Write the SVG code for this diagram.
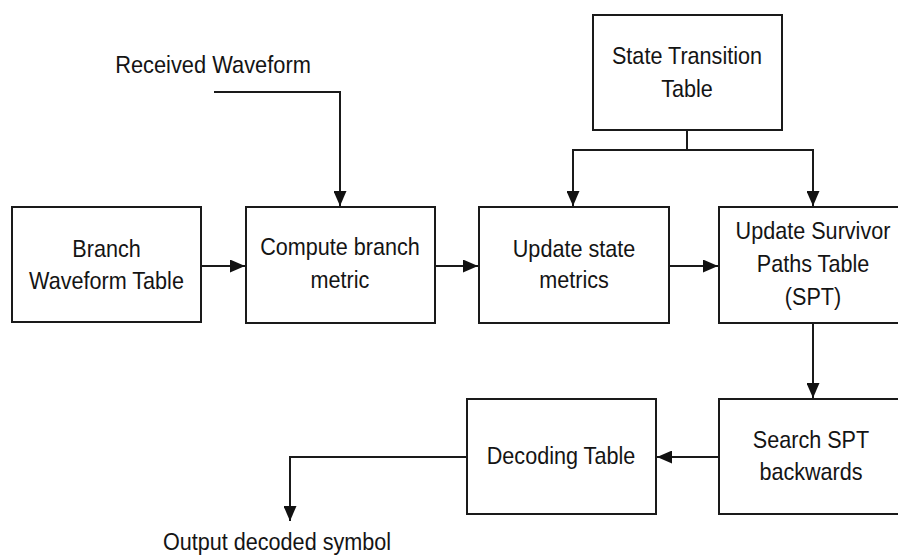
<svg xmlns="http://www.w3.org/2000/svg" width="898" height="556" viewBox="0 0 898 556">
  <style>
    .box { fill: #ffffff; stroke: #1a1a1a; stroke-width: 2; }
    .wire { fill: none; stroke: #1a1a1a; stroke-width: 2; }
    text { font-family: "Liberation Sans", Arial, sans-serif; font-size: 24px; fill: #141414; text-anchor: middle; }
  </style>
  <defs>
    <marker id="arrow" viewBox="0 0 15 13" refX="15" refY="6.5" markerWidth="15" markerHeight="13" markerUnits="userSpaceOnUse" orient="auto">
      <path d="M0,0 L15,6.5 L0,13 Z" fill="#111111"/>
    </marker>
  </defs>
  <rect width="898" height="556" fill="#ffffff"/>

  <g id="connectors">
    <path class="wire" d="M214,92 H340 V206" marker-end="url(#arrow)"/>
    <path class="wire" d="M201,266 H245" marker-end="url(#arrow)"/>
    <path class="wire" d="M435,266 H478" marker-end="url(#arrow)"/>
    <path class="wire" d="M669,266 H718" marker-end="url(#arrow)"/>
    <path class="wire" d="M687,130 V150 H573 V206" marker-end="url(#arrow)"/>
    <path class="wire" d="M687,150 H813 V206" marker-end="url(#arrow)"/>
    <path class="wire" d="M813,323 V398" marker-end="url(#arrow)"/>
    <path class="wire" d="M719,457 H657" marker-end="url(#arrow)"/>
    <path class="wire" d="M467,457 H290 V521" marker-end="url(#arrow)"/>
  </g>

  <g id="received-waveform">
    <text transform="translate(213,73) scale(0.91,1)">Received Waveform</text>
  </g>

  <g id="branch-waveform-table">
    <rect class="box" x="12" y="207" width="189" height="115"/>
    <text transform="translate(106.5,257) scale(0.9,1)">Branch</text>
    <text transform="translate(106.5,289) scale(0.9,1)">Waveform Table</text>
  </g>

  <g id="compute-branch-metric">
    <rect class="box" x="246" y="207" width="189" height="116"/>
    <text transform="translate(340,255) scale(0.9,1)">Compute branch</text>
    <text transform="translate(340,288) scale(0.9,1)">metric</text>
  </g>

  <g id="update-state-metrics">
    <rect class="box" x="479" y="207" width="190" height="116"/>
    <text transform="translate(574,257) scale(0.9,1)">Update state</text>
    <text transform="translate(574,288) scale(0.9,1)">metrics</text>
  </g>

  <g id="state-transition-table">
    <rect class="box" x="593" y="15" width="189" height="115"/>
    <text transform="translate(687,64) scale(0.9,1)">State Transition</text>
    <text transform="translate(687,97) scale(0.9,1)">Table</text>
  </g>

  <g id="update-survivor-paths">
    <rect class="box" x="719" y="207" width="190" height="116"/>
    <text transform="translate(813,239) scale(0.9,1)">Update Survivor</text>
    <text transform="translate(813,272) scale(0.9,1)">Paths Table</text>
    <text transform="translate(813,305) scale(0.9,1)">(SPT)</text>
  </g>

  <g id="search-spt-backwards">
    <rect class="box" x="719" y="399" width="190" height="115"/>
    <text transform="translate(811,448) scale(0.9,1)">Search SPT</text>
    <text transform="translate(811,480) scale(0.9,1)">backwards</text>
  </g>

  <g id="decoding-table">
    <rect class="box" x="467" y="399" width="189" height="115"/>
    <text transform="translate(561,464) scale(0.9,1)">Decoding Table</text>
  </g>

  <g id="output-decoded-symbol">
    <text transform="translate(277,550) scale(0.9,1)">Output decoded symbol</text>
  </g>
</svg>
